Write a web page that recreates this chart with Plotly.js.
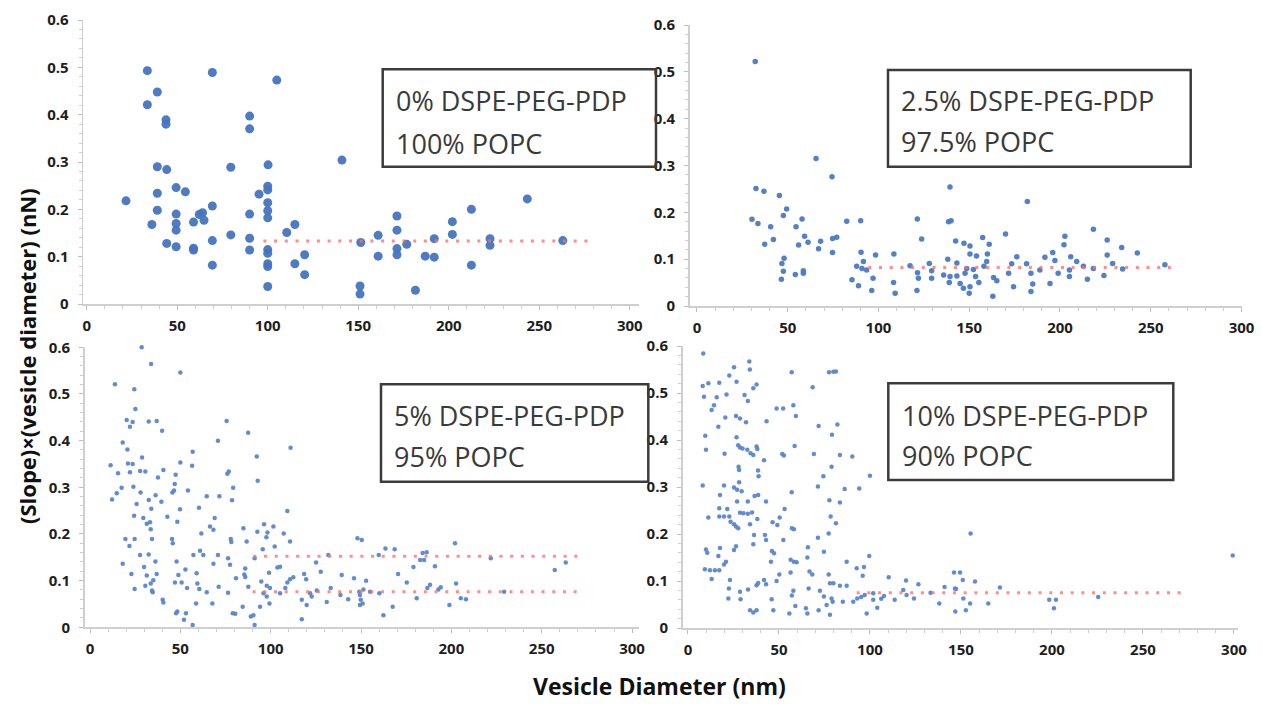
<!DOCTYPE html>
<html><head><meta charset="utf-8">
<script src="https://cdn.plot.ly/plotly-3.0.1.min.js"></script>
<style>html,body{margin:0;padding:0;background:#fff}#chart{width:1262px;height:704px}</style>
</head><body><div id="chart"></div>
<script>
// ---------- data ----------
const xTicks = [0, 50, 100, 150, 200, 250, 300];
const yTicks = [0, 0.1, 0.2, 0.3, 0.4, 0.5, 0.6];
const panelLabels = [
  ["0% DSPE-PEG-PDP", "100% POPC"],
  ["2.5% DSPE-PEG-PDP", "97.5% POPC"],
  ["5% DSPE-PEG-PDP", "95% POPC"],
  ["10% DSPE-PEG-PDP", "90% POPC"]
];
const xTitle = "Vesicle Diameter (nm)";
const yTitle = "(Slope)×(vesicle diameter) (nN)";

// 0% DSPE-PEG-PDP / 100% POPC
const pts0 = [[33.5,0.493],[69.4,0.489],[105,0.473],[39,0.448],[33.5,0.421],[43.8,0.380],[43.8,0.389],[90,0.397],[90,0.370],[39,0.290],[44.2,0.284],[79.6,0.289],[100.2,0.294],[141,0.304],[49.4,0.246],[54.5,0.237],[39,0.234],[95.2,0.232],[100,0.249],[100,0.241],[21.7,0.218],[100,0.214],[69.4,0.207],[39,0.198],[100,0.197],[49.4,0.190],[90,0.190],[64,0.193],[62.2,0.189],[100,0.182],[64.8,0.177],[59,0.173],[36,0.168],[49.4,0.170],[115,0.168],[49.4,0.156],[110.5,0.151],[79.6,0.146],[90,0.139],[69.4,0.134],[44.2,0.128],[49.4,0.121],[59,0.118],[59,0.114],[90,0.114],[100,0.115],[100,0.107],[120.4,0.104],[115,0.085],[69.4,0.082],[100,0.085],[100,0.079],[120.4,0.062],[100,0.037],[151.4,0.130],[151,0.038],[151,0.021],[161,0.145],[161,0.101],[171.4,0.186],[171.4,0.156],[171.4,0.117],[171.4,0.104],[176.8,0.126],[181.6,0.029],[187,0.101],[192,0.138],[192,0.099],[202,0.174],[202,0.147],[212.5,0.200],[212.5,0.082],[222.8,0.138],[222.8,0.124],[243.4,0.222],[263,0.134]];
const fit0_x = [97.6, 278];
const fit0_y = [0.133, 0.133];

// 2.5% DSPE-PEG-PDP / 97.5% POPC
const pts25 = [[32.1,0.522],[65.6,0.315],[74.4,0.276],[32.5,0.251],[36.9,0.245],[45.4,0.236],[49.4,0.207],[47.6,0.193],[30.3,0.185],[33.6,0.176],[57.9,0.186],[82.5,0.181],[90.2,0.182],[40.6,0.169],[54.6,0.169],[42.1,0.142],[37.3,0.132],[56,0.130],[59.3,0.149],[61.2,0.136],[68.1,0.138],[67,0.122],[74.7,0.144],[77,0.147],[74.7,0.114],[48,0.102],[46.8,0.091],[47.6,0.074],[46.5,0.057],[54.2,0.067],[58.6,0.075],[58.6,0.070],[85.4,0.056],[89,0.043],[88,0.085],[90.4,0.115],[98.4,0.109],[108.5,0.111],[91.7,0.095],[93.5,0.077],[90.9,0.080],[97,0.059],[96.3,0.033],[108.3,0.050],[109.2,0.027],[117.4,0.086],[121.5,0.071],[122,0.059],[121.2,0.033],[121.4,0.186],[123.8,0.143],[128,0.091],[129.3,0.075],[129.3,0.059],[135.9,0.066],[138.6,0.180],[139.4,0.254],[140,0.182],[138.2,0.100],[139.4,0.063],[139,0.050],[142.5,0.139],[143.2,0.092],[143.2,0.064],[145,0.048],[146.8,0.038],[147.1,0.134],[147.7,0.070],[148.6,0.080],[150.4,0.128],[150.4,0.111],[150.4,0.041],[150,0.027],[152.3,0.078],[153.5,0.063],[154,0.107],[155.3,0.050],[157.4,0.146],[158.1,0.085],[159.6,0.095],[160,0.111],[161,0.132],[163.4,0.061],[165.2,0.054],[163,0.021],[170,0.154],[171.7,0.070],[173.4,0.090],[174.4,0.041],[176.2,0.105],[181.6,0.090],[182,0.223],[184,0.070],[184,0.031],[185,0.047],[188.9,0.077],[191.7,0.104],[194.5,0.048],[196,0.114],[197.2,0.097],[199,0.070],[202.7,0.149],[202.2,0.131],[205.9,0.105],[205.2,0.077],[205.2,0.063],[209.2,0.095],[212.9,0.085],[215.1,0.057],[218.4,0.164],[218.4,0.080],[224.2,0.065],[226,0.141],[226,0.109],[229,0.091],[234,0.125],[234.5,0.079],[242.6,0.113],[257.8,0.088]];
const fit25_x = [94.4, 261.5];
const fit25_y = [0.082, 0.082];

// 5% DSPE-PEG-PDP / 95% POPC
const pts5 = [[28.6,0.600],[33.8,0.564],[50,0.546],[13.8,0.521],[24.5,0.510],[25.1,0.468],[20.3,0.444],[23.6,0.440],[22.1,0.430],[32.5,0.441],[36.9,0.442],[75.6,0.442],[39.9,0.421],[87.5,0.417],[70.8,0.400],[111,0.385],[18.1,0.396],[20.7,0.381],[56.8,0.376],[92.3,0.366],[28.8,0.364],[11.4,0.347],[21,0.351],[23.6,0.350],[50,0.353],[56.5,0.346],[15.5,0.330],[22.1,0.332],[27.7,0.335],[30.6,0.334],[40.6,0.337],[76.8,0.334],[76,0.329],[47.4,0.327],[37.6,0.321],[92.8,0.314],[17.5,0.299],[24,0.301],[46.9,0.307],[46.5,0.293],[79.2,0.299],[54.2,0.293],[14.8,0.287],[28,0.289],[36.3,0.283],[45.6,0.289],[12.2,0.274],[32.5,0.273],[39.5,0.269],[64.6,0.281],[71.6,0.281],[78.6,0.272],[25.8,0.264],[33.9,0.254],[49.8,0.253],[60.3,0.256],[109.2,0.249],[24.4,0.239],[42.8,0.237],[69,0.234],[29.5,0.234],[31.4,0.222],[33.2,0.225],[48.3,0.226],[96.3,0.221],[101.5,0.216],[33.6,0.210],[66.4,0.216],[68.3,0.209],[84.9,0.212],[61.6,0.201],[19.6,0.189],[24.7,0.189],[34.3,0.189],[45.4,0.189],[45.8,0.180],[77.9,0.189],[78.2,0.183],[92.6,0.205],[98.2,0.203],[97.6,0.193],[107.2,0.201],[86.7,0.184],[110.7,0.184],[21.8,0.174],[95.6,0.167],[102.2,0.173],[60.9,0.164],[57.2,0.155],[62.7,0.155],[27.7,0.155],[32.5,0.156],[70.8,0.155],[76.4,0.148],[47.9,0.141],[36.2,0.141],[18.1,0.136],[29.9,0.129],[68.3,0.136],[77.5,0.134],[91.1,0.148],[103.7,0.128],[105.2,0.130],[52.8,0.124],[85.9,0.126],[22.9,0.114],[31.4,0.111],[36.9,0.114],[48.9,0.112],[59,0.116],[85.4,0.113],[80.8,0.105],[85.9,0.108],[99.1,0.117],[110.7,0.103],[112.5,0.107],[35,0.101],[33.6,0.094],[30.6,0.089],[34.3,0.079],[50.7,0.096],[47,0.096],[53.7,0.084],[59.4,0.094],[60.5,0.082],[64.6,0.075],[71.2,0.087],[76.4,0.074],[87.6,0.087],[94.8,0.098],[97.8,0.089],[99.6,0.084],[96,0.073],[97.8,0.066],[99.3,0.051],[94.1,0.044],[90.4,0.026],[89,0.023],[91.1,0.005],[24.7,0.082],[34.7,0.075],[40.2,0.059],[40.6,0.053],[47.6,0.030],[48.3,0.034],[52,0.016],[53.1,0.030],[56.8,0.005],[58.7,0.051],[67.7,0.051],[79,0.030],[80.4,0.029],[84.5,0.044],[105.2,0.073],[108.1,0.084],[109.2,0.096],[117.2,0.017],[118.5,0.114],[119.6,0.103],[119.9,0.048],[121.8,0.073],[125.5,0.079],[125.1,0.139],[127.7,0.119],[131,0.054],[131.9,0.155],[117.2,0.059],[122.7,0.066],[139.3,0.112],[146.1,0.105],[152.8,0.100],[133.2,0.084],[138.6,0.069],[142.9,0.060],[148,0.191],[150.4,0.187],[149,0.076],[149.4,0.069],[149.8,0.059],[149.4,0.048],[150.9,0.051],[151.3,0.081],[155,0.076],[160.1,0.073],[159.8,0.155],[163.5,0.169],[168.6,0.167],[162.4,0.026],[167.5,0.044],[170.5,0.114],[175.3,0.096],[179,0.129],[180.8,0.062],[182.7,0.144],[184.9,0.144],[184.1,0.159],[186.3,0.161],[186.7,0.084],[188.2,0.091],[190.9,0.131],[192.8,0.081],[194.1,0.086],[198.9,0.048],[202,0.180],[202.6,0.094],[205.2,0.062],[208.1,0.060],[221.8,0.148],[229.2,0.076],[257.2,0.123],[263.3,0.139]];
const fit5a_x = [90.4, 270];
const fit5a_y = [0.152, 0.152];
const fit5b_x = [90, 270];
const fit5b_y = [0.076, 0.076];

// 10% DSPE-PEG-PDP / 90% POPC
const pts10 = [[8.4,0.584],[8.1,0.515],[11.2,0.521],[17.2,0.522],[22.7,0.537],[25.3,0.555],[26.7,0.524],[33.7,0.567],[34,0.550],[8.8,0.492],[15.8,0.491],[21.2,0.497],[31.1,0.496],[32.9,0.483],[35.9,0.510],[37.7,0.518],[14.3,0.474],[13,0.464],[20.5,0.448],[26.4,0.451],[28.6,0.446],[31.9,0.438],[16.7,0.428],[9.5,0.409],[9.9,0.379],[20.1,0.371],[26.7,0.406],[27.6,0.389],[28.6,0.384],[30,0.382],[32.6,0.379],[34.4,0.372],[35.9,0.368],[37.7,0.386],[38.1,0.381],[43.2,0.440],[41.8,0.357],[8.1,0.303],[17.6,0.283],[19.8,0.303],[25.3,0.299],[27,0.294],[29.5,0.291],[27,0.269],[27.8,0.343],[28.1,0.336],[28.1,0.310],[38.5,0.335],[38.8,0.323],[32.9,0.269],[36.6,0.281],[38.6,0.283],[42.9,0.269],[11.2,0.235],[17.2,0.237],[17.2,0.255],[19.8,0.237],[21.6,0.253],[22.7,0.237],[23.4,0.226],[25.3,0.221],[26.4,0.216],[27.6,0.212],[28.6,0.245],[30.5,0.244],[32.9,0.243],[35.2,0.246],[34.1,0.221],[36.3,0.198],[38.1,0.232],[35.9,0.178],[26.4,0.174],[25.3,0.166],[17.6,0.170],[9.9,0.167],[10.6,0.160],[16.7,0.153],[20.9,0.141],[19.8,0.135],[9.3,0.125],[12.1,0.123],[14.8,0.123],[17.2,0.123],[13,0.104],[23.1,0.102],[22.5,0.084],[22.2,0.063],[28.6,0.077],[28.9,0.061],[33,0.082],[34.1,0.038],[35.9,0.033],[37.7,0.038],[37.7,0.091],[38.6,0.096],[41.8,0.102],[42.9,0.093],[42.3,0.198],[42.9,0.187],[46.9,0.038],[46,0.061],[46.5,0.225],[49.1,0.219],[46.1,0.164],[47.3,0.159],[45.6,0.141],[48.7,0.100],[50.2,0.114],[48.7,0.467],[52.3,0.467],[51.8,0.370],[52.7,0.367],[50.4,0.235],[53.1,0.253],[52.4,0.187],[57,0.544],[57.9,0.474],[59.3,0.451],[58.6,0.387],[57,0.289],[57.1,0.212],[58.2,0.210],[56.4,0.145],[58.2,0.141],[59.7,0.140],[56.4,0.118],[57.9,0.079],[57.1,0.069],[55.7,0.031],[59,0.047],[68.5,0.512],[71.8,0.430],[69.2,0.370],[71.4,0.301],[65.9,0.172],[65.6,0.150],[66.8,0.120],[68.3,0.114],[66.3,0.084],[64.8,0.042],[65.6,0.031],[71.4,0.192],[74.4,0.323],[74.7,0.162],[71.8,0.038],[72.5,0.079],[74.7,0.067],[76.2,0.049],[77.5,0.544],[79.9,0.545],[81.3,0.546],[82.1,0.433],[79.1,0.411],[78.9,0.343],[77.7,0.272],[78.4,0.237],[81.3,0.223],[77.3,0.201],[77.3,0.114],[78,0.095],[79.9,0.095],[78,0.028],[78.9,0.063],[79.5,0.056],[83.5,0.368],[83.5,0.267],[86.1,0.296],[87.2,0.141],[85.1,0.056],[83.5,0.090],[87.2,0.090],[90.3,0.365],[94.1,0.297],[100,0.324],[99.6,0.153],[92.7,0.127],[96.7,0.130],[96,0.111],[90.8,0.056],[93,0.063],[95.2,0.066],[97.1,0.070],[98.2,0.031],[101.8,0.060],[101.8,0.074],[104,0.043],[106.2,0.062],[110.3,0.108],[107.7,0.068],[113.6,0.060],[119.8,0.101],[118.3,0.081],[120.1,0.070],[124.2,0.063],[126.6,0.093],[133.3,0.075],[138.1,0.052],[141,0.087],[146.2,0.118],[147.3,0.083],[146.9,0.035],[155.3,0.201],[149.5,0.118],[151,0.102],[157.7,0.099],[146.7,0.084],[151.3,0.063],[155,0.052],[152.7,0.038],[165,0.052],[171.4,0.086],[198.5,0.060],[202.2,0.060],[201.1,0.042],[225.4,0.066],[299.3,0.154]];
const fit10_x = [92.7, 271.6];
const fit10_y = [0.075, 0.075];

// ---------- layout helpers (pixels -> paper) ----------
const W = 1262, H = 704;
const px = x => x / W;
const py = y => 1 - y / H;

const panels = [
  {pts: pts0,  fits: [[fit0_x, fit0_y]],  xr: [-2, 305], xd: [83.1, 638.8],  yd: [304, 20],   msize: 9, mcol: '#4674c0', box: [382.7, 69.3, 656, 166.7], tl: [394, 100, 143]},
  {pts: pts25, fits: [[fit25_x, fit25_y]], xr: [-4, 300], xd: [689.7, 1241.5], yd: [306, 25],   msize: 5.5, mcol: '#4a79c4', box: [888, 70, 1190.7, 166.7],   tl: [899, 101, 141]},
  {pts: pts5,  fits: [[fit5a_x, fit5a_y], [fit5b_x, fit5b_y]], xr: [-3, 304], xd: [84.6, 639.3], yd: [627.3, 347.3], msize: 4.5, mcol: '#5a86cc', box: [381, 384.3, 648.3, 481.7], tl: [392, 415, 456]},
  {pts: pts10, fits: [[fit10_x, fit10_y]], xr: [-3, 302], xd: [682.5, 1237.6], yd: [628, 346],  msize: 4.5, mcol: '#5a86cc', box: [888.3, 383.3, 1173.3, 480], tl: [900, 415, 455]}
];

const traces = [];
const layout = {
  width: W, height: H,
  margin: {l: 0, r: 0, t: 0, b: 0},
  paper_bgcolor: '#ffffff', plot_bgcolor: 'rgba(0,0,0,0)',
  showlegend: false,
  shapes: [], annotations: []
};

const tickFont = {family: 'Open Sans, Liberation Sans, sans-serif', size: 15, color: '#1e1e1e', weight: 'bold'};
const axisCol = '#cfcfcf';

panels.forEach((p, i) => {
  const n = i === 0 ? '' : String(i + 1);
  traces.push({
    type: 'scatter', mode: 'markers',
    x: p.pts.map(d => d[0]), y: p.pts.map(d => d[1]),
    xaxis: 'x' + n, yaxis: 'y' + n,
    marker: {size: p.msize, color: p.mcol, opacity: 0.95},
    cliponaxis: false, hoverinfo: 'x+y'
  });
  p.fits.forEach(f => {
    traces.push({
      type: 'scatter', mode: 'lines',
      x: f[0], y: f[1],
      xaxis: 'x' + n, yaxis: 'y' + n,
      line: {color: 'rgba(255,110,110,0.8)', width: 3, dash: '3px,7.7px'},
      hoverinfo: 'skip'
    });
  });
  layout['xaxis' + n] = {
    domain: [px(p.xd[0]), px(p.xd[1])], range: p.xr, anchor: 'y' + n,
    tickvals: xTicks, ticktext: xTicks.map(String),
    showgrid: false, zeroline: false,
    showline: true, linecolor: axisCol, linewidth: 1.5,
    ticks: 'outside', ticklen: 4, tickcolor: '#bdbdbd', tickwidth: 1,
    minor: {ticks: 'outside', ticklen: 3, dtick: 10, tick0: 0, tickcolor: '#cfcfcf', showgrid: false},
    tickfont: tickFont, ticklabelstandoff: 3, fixedrange: true
  };
  layout['yaxis' + n] = {
    domain: [py(p.yd[0]), py(p.yd[1])], range: [0, 0.6], anchor: 'x' + n,
    tickvals: yTicks, ticktext: yTicks.map(v => v === 0 ? '0' : v.toFixed(1)),
    showgrid: false, zeroline: false,
    showline: true, linecolor: axisCol, linewidth: 1.5,
    ticks: 'outside', ticklen: 4, tickcolor: '#bdbdbd', tickwidth: 1,
    minor: {ticks: 'outside', ticklen: 3, dtick: 0.02, tick0: 0, tickcolor: '#cfcfcf', showgrid: false},
    tickfont: tickFont, ticklabelstandoff: 6, fixedrange: true
  };
  // label box
  const b = p.box;
  layout.shapes.push({
    type: 'rect', xref: 'paper', yref: 'paper',
    x0: px(b[0]), x1: px(b[2]), y0: py(b[3]), y1: py(b[1]),
    line: {color: '#3c3c3c', width: 2.5}, fillcolor: 'rgba(255,255,255,0)'
  });
  panelLabels[i].forEach((t, k) => {
    layout.annotations.push({
      xref: 'paper', yref: 'paper', x: px(p.tl[0]), y: py(p.tl[1 + k]),
      xanchor: 'left', yanchor: 'middle', showarrow: false, text: t,
      font: {family: 'Open Sans, Liberation Sans, sans-serif', size: 27, color: '#3a3a3a'}
    });
  });
});

// shared axis titles
layout.annotations.push({
  xref: 'paper', yref: 'paper', x: px(659), y: py(686), xanchor: 'center', yanchor: 'middle',
  showarrow: false, text: xTitle,
  font: {family: 'Open Sans, Liberation Sans, sans-serif', size: 23, color: '#111', weight: 'bold'}
});
layout.annotations.push({
  xref: 'paper', yref: 'paper', x: px(27), y: py(356), xanchor: 'center', yanchor: 'middle',
  showarrow: false, text: yTitle, textangle: -90,
  font: {family: 'Open Sans, Liberation Sans, sans-serif', size: 22, color: '#111', weight: 'bold'}
});

Plotly.newPlot('chart', traces, layout, {displayModeBar: false, staticPlot: true});
</script></body></html>
